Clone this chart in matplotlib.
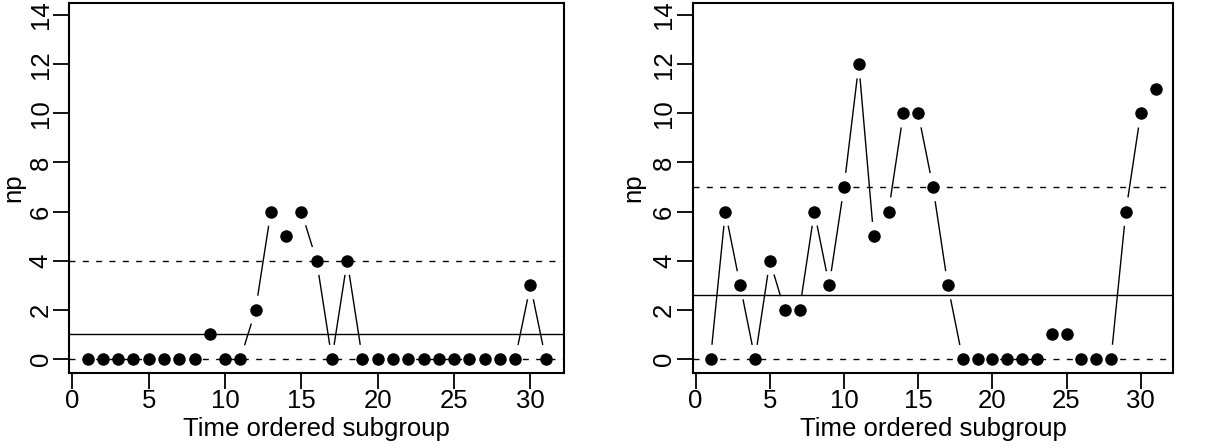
import numpy as np
import matplotlib
matplotlib.use("Agg")
import matplotlib.pyplot as plt

plt.rcParams['font.family'] = ['Liberation Sans', 'DejaVu Sans']
plt.rcParams['lines.scale_dashes'] = False

# ---- data ----
subgroup = list(range(1, 32))
np_left = [0, 0, 0, 0, 0, 0, 0, 0, 1, 0, 0, 2, 6, 5, 6, 4, 0, 4, 0, 0,
           0, 0, 0, 0, 0, 0, 0, 0, 0, 3, 0]
np_right = [0, 6, 3, 0, 4, 2, 2, 6, 3, 7, 12, 5, 6, 10, 10, 7, 3, 0, 0, 0,
            0, 0, 0, 1, 1, 0, 0, 0, 6, 10, 11]
center_left, ucl_left, lcl_left = 1.0, 4.0, 0.0
center_right, ucl_right, lcl_right = 2.6, 7.0, 0.0
xticks = [0, 5, 10, 15, 20, 25, 30]
yticks = [0, 2, 4, 6, 8, 10, 12, 14]
xlabel = "Time ordered subgroup"
ylabel = "np"

W, H = 1211, 448
fig = plt.figure(figsize=(W / 100, H / 100), dpi=100)

bottom = 1 - 372.5 / H
top = 1 - 3.3 / H
axL = fig.add_axes([69.3 / W, bottom, 494.7 / W, top - bottom])
axR = fig.add_axes([692.7 / W, bottom, 480.6 / W, top - bottom])

FS = 18.5
GAP = 15.0  # pixels
DASH = (0, (4.3, 5.3))


def panel(ax, y, center, ucl, lcl, ylab_px):
    ax.set_xlim(-0.2, 32.2)
    ax.set_ylim(-0.55, 14.48)
    ax.axhline(center, color='black', lw=1.0, zorder=1)
    ax.axhline(ucl, color='black', lw=1.0, ls=DASH, zorder=1)
    ax.axhline(lcl, color='black', lw=1.0, ls=DASH, zorder=1)
    # points
    ax.plot(subgroup, y, 'o', color='black', ms=9, mew=0, zorder=3)
    # type="b" style line segments with gaps around points
    fig.canvas.draw()
    pts = ax.transData.transform(np.column_stack([subgroup, y]).astype(float))
    inv = ax.transData.inverted()
    for i in range(len(pts) - 1):
        p0, p1 = pts[i], pts[i + 1]
        d = np.hypot(*(p1 - p0))
        if d <= 2 * GAP:
            continue
        u = (p1 - p0) / d
        a = inv.transform(p0 + u * GAP)
        b = inv.transform(p1 - u * GAP)
        ax.plot([a[0], b[0]], [a[1], b[1]], color='black', lw=1.0, zorder=2)
    ax.set_xticks(xticks)
    ax.set_yticks(yticks)
    ax.set_xticklabels([str(t) for t in xticks], fontsize=FS)
    ax.set_yticklabels([str(t) for t in yticks], fontsize=FS, rotation=90,
                       va='center', ha='right')
    ax.tick_params(axis='both', length=11.5, width=1.3, pad=0.5, color='black')
    for s in ax.spines.values():
        s.set_linewidth(1.5)
    ax.set_xlabel(xlabel, fontsize=FS)
    ax.set_ylabel(ylabel, fontsize=FS)
    bbox = ax.get_position()
    axw = bbox.width * W
    axh = bbox.height * H
    ax.xaxis.set_label_coords(0.5, -(417 - 372.5) / axh)
    ax.yaxis.set_label_coords(-ylab_px / axw, 0.5)


panel(axL, np_left, center_left, ucl_left, lcl_left, 44)
panel(axR, np_right, center_right, ucl_right, lcl_right, 47)

fig.savefig("out.png", dpi=100)
